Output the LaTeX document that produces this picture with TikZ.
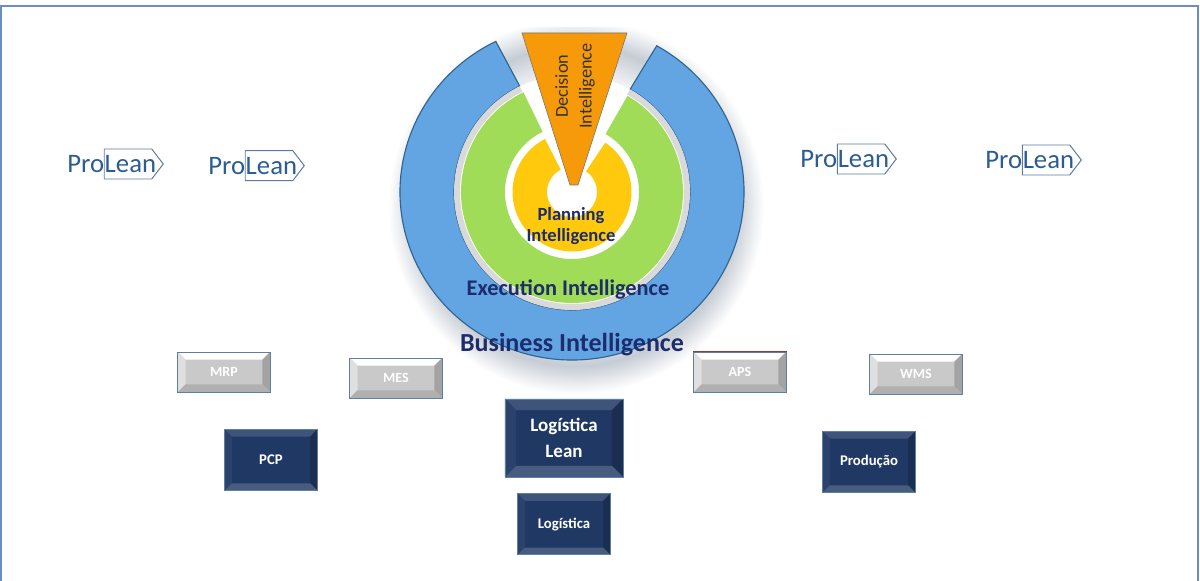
\documentclass[tikz,border=0pt]{standalone}
\usepackage{fontspec}
\setmainfont{Carlito}
\usepackage{xcolor}
\usetikzlibrary{shapes.symbols,positioning,calc}
\definecolor{frameblue}{HTML}{6C8EBF}
\definecolor{bizblue}{HTML}{62A5E2}
\definecolor{bizedge}{HTML}{2F6490}
\definecolor{execgreen}{HTML}{A0DC58}
\definecolor{planyellow}{HTML}{FFC90E}
\definecolor{decorange}{HTML}{F79A0A}
\definecolor{inknavy}{HTML}{1C2C6C}
\definecolor{leanblue}{HTML}{2B5C92}
\definecolor{navyface}{HTML}{203864}
\definecolor{greyface}{HTML}{C9C9C9}
\definecolor{btnedge}{HTML}{5E7F9E}
\definecolor{halogrey}{HTML}{C6CCD4}
\pgfdeclareradialshading{halo}{\pgfpointorigin}{color(0bp)=(white); color(15bp)=(white); color(20bp)=(halogrey); color(23.5bp)=(white); color(50bp)=(white)}
\newcommand{\bevelfaces}[5]{%
  \coordinate (nw) at (path picture bounding box.north west);
  \coordinate (ne) at (path picture bounding box.north east);
  \coordinate (sw) at (path picture bounding box.south west);
  \coordinate (se) at (path picture bounding box.south east);
  \coordinate (inw) at ([xshift=#5,yshift=-#5]nw);
  \coordinate (ine) at ([xshift=-#5,yshift=-#5]ne);
  \coordinate (isw) at ([xshift=#5,yshift=#5]sw);
  \coordinate (ise) at ([xshift=-#5,yshift=#5]se);
  \fill[#1] (nw) -- (ne) -- (ine) -- (inw) -- cycle;
  \fill[#2] (nw) -- (sw) -- (isw) -- (inw) -- cycle;
  \fill[#3] (ne) -- (se) -- (ise) -- (ine) -- cycle;
  \fill[#4] (sw) -- (se) -- (ise) -- (isw) -- cycle;
}
\begin{document}
\begin{tikzpicture}[x=0.025cm, y=0.025cm,
  greybtn/.style={draw=btnedge, line width=0.6pt, fill=greyface, inner sep=0pt, minimum width=2.31cm, minimum height=1cm, text=white, font=\fontsize{10}{10}\selectfont\bfseries,
    path picture={\bevelfaces{white}{gray!25}{gray!72}{gray!62}{5.5pt}}},
  navybtn/.style={draw=btnedge, line width=0.6pt, fill=navyface, inner sep=0pt, minimum width=2.31cm, minimum height=1.52cm, text=white, align=center, font=\fontsize{10.5}{10.5}\selectfont\bfseries,
    path picture={\bevelfaces{navyface!86!white}{navyface!95!white}{navyface!82!black}{navyface!82!white}{5pt}}},
  leantag/.style={shape=signal, signal to=east, signal from=nowhere, signal pointer angle=105, draw=frameblue!85!black, line width=0.7pt, inner sep=0pt, minimum width=1.475cm, minimum height=0.75cm},
  protext/.style={inner sep=0pt, text=leanblue, font=\fontsize{19}{19}\selectfont},
  ringlabel/.style={text=inknavy, align=center, inner sep=0pt, font=\bfseries}]
\useasboundingbox (0,0) rectangle (1200,580);
\draw[frameblue, line width=1.5pt] (1,-10) rectangle (1198,574);

% glow behind the rings
\begin{scope}
\clip (370,150) rectangle (780,552);
\shade[shading=halo] (376,174) rectangle (776,574);
\end{scope}

\begin{scope}[shift={(572,388)}]
\draw[bizedge, fill=bizblue, line width=0.8pt] (116.3:172 and 168) arc[start angle=116.3, end angle=420.5, x radius=172, y radius=168] -- (60.5:118) arc[start angle=420.5, end angle=116.3, radius=118] -- cycle;
\fill[white] (0,0) circle (117.5);
\fill[gray!30] (116.3:118) arc[start angle=116.3, end angle=420.5, radius=118] -- (60.5:112) arc[start angle=420.5, end angle=116.3, radius=112] -- cycle;
\fill[execgreen] (116:111) arc[start angle=116, end angle=420, radius=111] -- (60:67) arc[start angle=420, end angle=116, radius=67] -- cycle;
\fill[planyellow] (117:59.5) arc[start angle=117, end angle=416, radius=59.5] -- (56:25) arc[start angle=416, end angle=117, radius=25] -- cycle;
\end{scope}

% pointed slice on top
\node[inner sep=0pt] (deccentre) at (575,494) {};
\fill[decorange] (522,547) -- (627,547) -- (578,395) -- (570,395) -- cycle;
\draw[black!55, line width=0.4pt] (522,547) -- (627,547) -- (578,395) -- (570,395) -- cycle;
\node[rotate=90, align=center, inner sep=0pt, text=black!80, font=\fontsize{13}{17}\selectfont] (decision) at (deccentre) {Decision\\Intelligence};

\node[ringlabel, font=\fontsize{13.2}{15.5}\selectfont\bfseries] (planning) at (571,354) {Planning\\Intelligence};
\node[ringlabel, font=\fontsize{15.9}{15.9}\selectfont\bfseries] (execution) at (568,290) {Execution Intelligence};
\node[ringlabel, font=\fontsize{18.5}{18.5}\selectfont\bfseries] (business) at (572,235) {Business Intelligence};

\node[greybtn] (mrp) at (224,208) {MRP};
\node[greybtn] (mes) at (396,202) {MES};
\node[greybtn] (aps) at (740,208) {APS};
\node[greybtn] (wms) at (916,206) {WMS};
\draw[red!60!black!80, line width=1pt] (aps.north west) -- (aps.north east);

\node[navybtn] (pcp) at (271,120) {PCP};
\node[navybtn, minimum width=2.95cm, minimum height=1.95cm, font=\fontsize{13.5}{18}\selectfont\bfseries, path picture={\bevelfaces{navyface!86!white}{navyface!95!white}{navyface!82!black}{navyface!82!white}{8pt}}] (loglean) at (564,142) {Logística\\Lean};
\node[navybtn, below=0.4cm of loglean] (logistica) {Logística};
\node[navybtn] (producao) at (869,118) {Produção};

\node[leantag] (tag1) at (128,416) {};
\node[protext, anchor=west] (lean1) at ([xshift=0.5pt]tag1.west) {Lean};
\node[protext, left=0pt of lean1] (pro1) {Pro};
\node[leantag] (tag2) at (269,414.3) {};
\node[protext, anchor=west] (lean2) at ([xshift=0.5pt]tag2.west) {Lean};
\node[protext, left=0pt of lean2] (pro2) {Pro};
\node[leantag] (tag3) at (861,421) {};
\node[protext, anchor=west] (lean3) at ([xshift=0.5pt]tag3.west) {Lean};
\node[protext, left=0pt of lean3] (pro3) {Pro};
\node[leantag] (tag4) at (1046,420) {};
\node[protext, anchor=west] (lean4) at ([xshift=0.5pt]tag4.west) {Lean};
\node[protext, left=0pt of lean4] (pro4) {Pro};
\end{tikzpicture}
\end{document}
